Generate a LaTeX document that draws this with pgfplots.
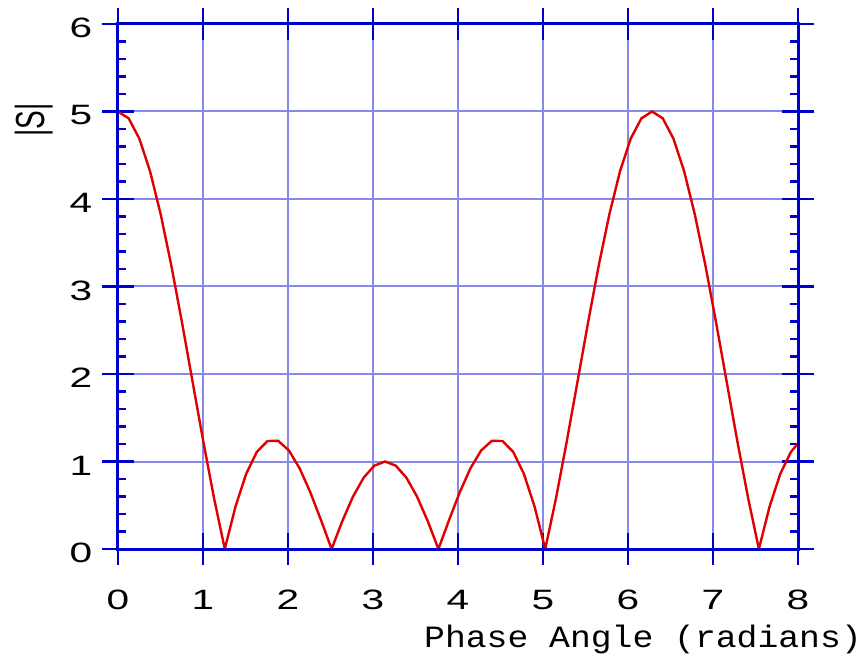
\documentclass[border=0pt]{standalone}
\usepackage{fontspec}
\setmainfont{Liberation Sans}
\newfontfamily\monofont{Liberation Mono}
\usepackage{pgfplots}
\pgfplotsset{compat=1.18}
\definecolor{axisblue}{RGB}{0,0,204}
\definecolor{gridblue}{RGB}{136,136,232}
\definecolor{curvered}{RGB}{224,0,0}
\pgfplotsset{base/.style={
  width=340pt, height=262.5pt, scale only axis,
  xmin=0, xmax=8, ymin=0, ymax=6,
  xtick={0,1,2,3,4,5,6,7,8}, ytick={0,1,2,3,4,5,6},
  axis line style={color=axisblue, line width=1.5pt},
  tick style={color=axisblue, line width=1.25pt},
  major tick length=8pt,
  /pgf/number format/assume math mode=true,
}}
\begin{document}
\begin{tikzpicture}
\begin{axis}[base,
  tick align=inside,
  minor y tick num=4, minor tick length=4pt,
  grid=major,
  major grid style={color=gridblue, line width=1pt},
  tick label style={font=\fontsize{14}{14}\selectfont},
  xticklabel style={anchor=center, yshift=-25.5pt, xscale=1.45},
  yticklabel style={anchor=center, xshift=-18.5pt, yshift=-2pt, xscale=1.45},
]
\addplot[color=curvered, line width=1.2pt, mark=none] coordinates {
(0,5) (0.1257,4.9214) (0.2513,4.6898) (0.3770,4.3175) (0.5027,3.8243)
(0.6283,3.2361) (0.7540,2.5835) (0.8796,1.9001) (1.0053,1.2201) (1.1310,0.5767)
(1.2566,0) (1.3823,0.4848) (1.5080,0.8587) (1.6336,1.1098) (1.7593,1.2343)
(1.8850,1.2361) (2.0106,1.1264) (2.1363,0.9232) (2.2619,0.6496) (2.3876,0.3324)
(2.5133,0) (2.6389,0.3190) (2.7646,0.5984) (2.8903,0.8155) (3.0159,0.9529)
(3.1416,1) (3.2673,0.9529) (3.3929,0.8155) (3.5186,0.5984) (3.6442,0.3190)
(3.7699,0) (3.8956,0.3324) (4.0212,0.6496) (4.1469,0.9232) (4.2726,1.1264)
(4.3982,1.2361) (4.5239,1.2343) (4.6496,1.1098) (4.7752,0.8587) (4.9009,0.4848)
(5.0265,0) (5.1522,0.5767) (5.2779,1.2201) (5.4035,1.9001) (5.5292,2.5835)
(5.6549,3.2361) (5.7805,3.8243) (5.9062,4.3175) (6.0319,4.6898) (6.1575,4.9214)
(6.2832,5) (6.4088,4.9214) (6.5345,4.6898) (6.6602,4.3175) (6.7858,3.8243)
(6.9115,3.2361) (7.0372,2.5835) (7.1628,1.9001) (7.2885,1.2201) (7.4142,0.5767)
(7.5398,0) (7.6655,0.4848) (7.7911,0.8587) (7.9168,1.1098) (8.0,1.2060)
};
\coordinate (bl) at (axis cs:-1.388,-1.2457);
\coordinate (tr) at (axis cs:8.8235,6.274);
\coordinate (xl) at (axis cs:6.176,-1.12);
\coordinate (yl) at (axis cs:-0.988,4.903);
\end{axis}
\begin{axis}[base,
  tick align=outside,
  xticklabels={}, yticklabels={},
]
\end{axis}
\node[font=\monofont\fontsize{15.5}{15.5}\selectfont, xscale=1.12, anchor=base, inner sep=0pt] at (xl) {Phase Angle (radians)};
\node[font=\fontsize{14}{14}\selectfont, xscale=1.45, rotate=90, anchor=center, inner sep=0pt] at (yl) {|S|};
\pgfresetboundingbox
\path[use as bounding box] (bl) rectangle (tr);
\end{tikzpicture}
\end{document}
